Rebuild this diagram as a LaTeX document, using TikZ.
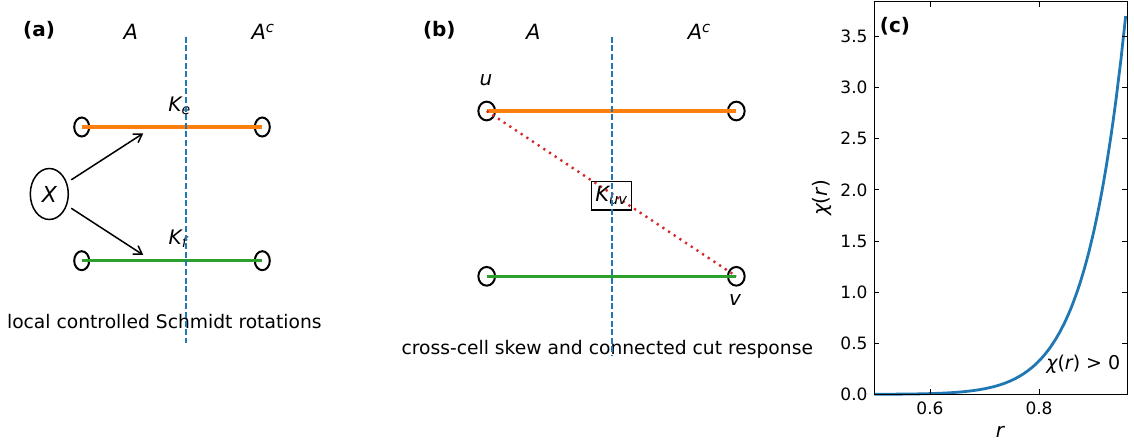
\documentclass[tikz,border=0pt]{standalone}
\usepackage{fontspec}
\setmainfont{DejaVu Sans}
\usetikzlibrary{shapes.geometric,arrows.meta,positioning,calc}
\definecolor{tabblue}{HTML}{1F77B4}
\definecolor{taborange}{HTML}{FF7F0E}
\definecolor{tabgreen}{HTML}{2CA02C}
\definecolor{tabred}{HTML}{D62728}

\begin{document}
\begin{tikzpicture}[
    x=1pt, y=-1pt,
    site/.style={ellipse, draw=black, line width=2pt, minimum width=15pt, minimum height=19pt, inner sep=0pt},
    siteb/.style={site, minimum width=16.7pt, minimum height=18.7pt},
    bond/.style={line width=3.3pt},
    cutline/.style={draw=tabblue, line width=1.8pt, dash pattern=on 6pt off 2.6pt},
    skew/.style={draw=tabred, line width=2.4pt, dash pattern=on 2.2pt off 4.6pt},
    arr/.style={-{Straight Barb[length=8pt,width=10pt]}, line width=1.5pt},
    plab/.style={font=\fontsize{20}{24}\selectfont\bfseries, inner sep=0pt},
    mlab/.style={font=\fontsize{21}{24}\selectfont\itshape, inner sep=0pt},
    captext/.style={font=\fontsize{18.7}{22}\selectfont, inner sep=0pt},
    ticklab/.style={font=\fontsize{17}{20}\selectfont, inner sep=0pt},
    axline/.style={line width=1pt}
]
    \useasboundingbox (0,0) rectangle (1134,445);

    % (a)
    \node [plab] (la) at (39,30.7) {(a)};
    \node [mlab] (aA) at (130.7,31.7) {A};
    \node [mlab] (aAc) at (263,32) {A\textsuperscript{c}};
    \node [site] (ae1) at (81.7,127) {};
    \node [site] (ae2) at (262.3,127) {};
    \node [site] (af1) at (81.7,260.7) {};
    \node [site] (af2) at (262.3,260.7) {};
    \draw [bond, taborange] (ae1.center) -- (ae2.center);
    \draw [bond, tabgreen] (af1.center) -- (af2.center);
    \node [mlab, font=\fontsize{20}{24}\selectfont\itshape, anchor=base] (Ke) at (179.5,111) {K\textsubscript{e}};
    \node [mlab, font=\fontsize{20}{24}\selectfont\itshape, anchor=base] (Kf) at (178,244) {K\textsubscript{f}};
    \node [ellipse, draw, line width=1.5pt, minimum width=38pt, minimum height=51pt, inner sep=0pt,
           font=\fontsize{22}{24}\selectfont\itshape] (X) at (49.3,194) {X};
    \coordinate (tipE) at (143.3,133.3);
    \coordinate (tipF) at (143.3,255);
    \draw [arr, shorten <=5pt] (X) -- (tipE);
    \draw [arr, shorten <=5pt] (X) -- (tipF);
    \node [captext] (capa) at (164.3,321.7) {local controlled Schmidt rotations};
    \coordinate (acutT) at (185.7,36.7);
    \coordinate (acutB) at (185.7,343);
    \draw [cutline] (acutT) -- (acutB);

    % (b)
    \node [plab] (lb) at (439.3,30.7) {(b)};
    \node [mlab] (bA) at (533.3,31.7) {A};
    \node [mlab] (bAc) at (699.3,32) {A\textsuperscript{c}};
    \node [siteb] (bu1) at (486.7,111) {};
    \node [siteb] (bu2) at (736.3,111) {};
    \node [siteb] (bv1) at (486.7,276.3) {};
    \node [siteb] (bv2) at (736.3,276.3) {};
    \draw [bond, taborange] (bu1.center) -- (bu2.center);
    \draw [bond, tabgreen] (bv1.center) -- (bv2.center);
    \node [mlab, font=\fontsize{20}{24}\selectfont\itshape] (u) at (486,79.7) {u};
    \node [mlab, font=\fontsize{20}{24}\selectfont\itshape] (v) at (735,299.7) {v};
    \draw [skew] (bu1.center) -- (bv2.center);
    \node [draw, line width=1.5pt, minimum width=39.6pt, minimum height=28.3pt, inner sep=0pt,
           font=\fontsize{21}{24}\selectfont\itshape] (Kuv) at (611.5,195.8) {K\textsubscript{uv}};
    \node [captext] (capb) at (607.3,349) {cross-cell skew and connected cut response};
    \coordinate (bcutT) at (611.7,36.7);
    \coordinate (bcutB) at (611.7,355);
    \draw [cutline] (bcutT) -- (bcutB);

    % (c)
    \coordinate (axNW) at (874.3,1.7);
    \coordinate (axSE) at (1127,394.3);
    \draw [tabblue, line width=2.8pt, line join=round]
        plot [domain=0.498:0.96, samples=160] ({875.5+(\x-0.5)*545}, {394.3-6.5*(\x)^13.4*102.2});
    \draw [axline] (axNW) rectangle (axSE);
    \foreach \v [count=\i] in {0.0,0.5,1.0,1.5,2.0,2.5,3.0,3.5} {
        \node [ticklab, anchor=east] (yt\i) at (867.7,{394.3-\v*102.2}) {\v};
        \draw [axline] (874.3,{394.3-\v*102.2}) -- ++(5,0);
        \draw [axline] (1127,{394.3-\v*102.2}) -- ++(-5,0);
    }
    \foreach \r [count=\i] in {0.6,0.8} {
        \node [ticklab, anchor=north] (xt\i) at ({875.5+(\r-0.5)*545},402) {\r};
        \draw [axline] ({875.5+(\r-0.5)*545},394.3) -- ++(0,-5);
        \draw [axline] ({875.5+(\r-0.5)*545},1.7) -- ++(0,5);
    }
    \node [plab] (lc) at (895,26.7) {(c)};
    \node [font=\fontsize{19}{22}\selectfont, inner sep=0pt] (pos) at (1083.3,364.3) {{\itshape χ}({\itshape r}) > 0};
    \node [font=\fontsize{20}{22}\selectfont, inner sep=0pt, rotate=90] (ylab) at (822,198) {{\itshape χ}({\itshape r})};
    \node [mlab, font=\fontsize{20}{22}\selectfont\itshape] (xlab) at (1000,432) {r};
\end{tikzpicture}
\end{document}
